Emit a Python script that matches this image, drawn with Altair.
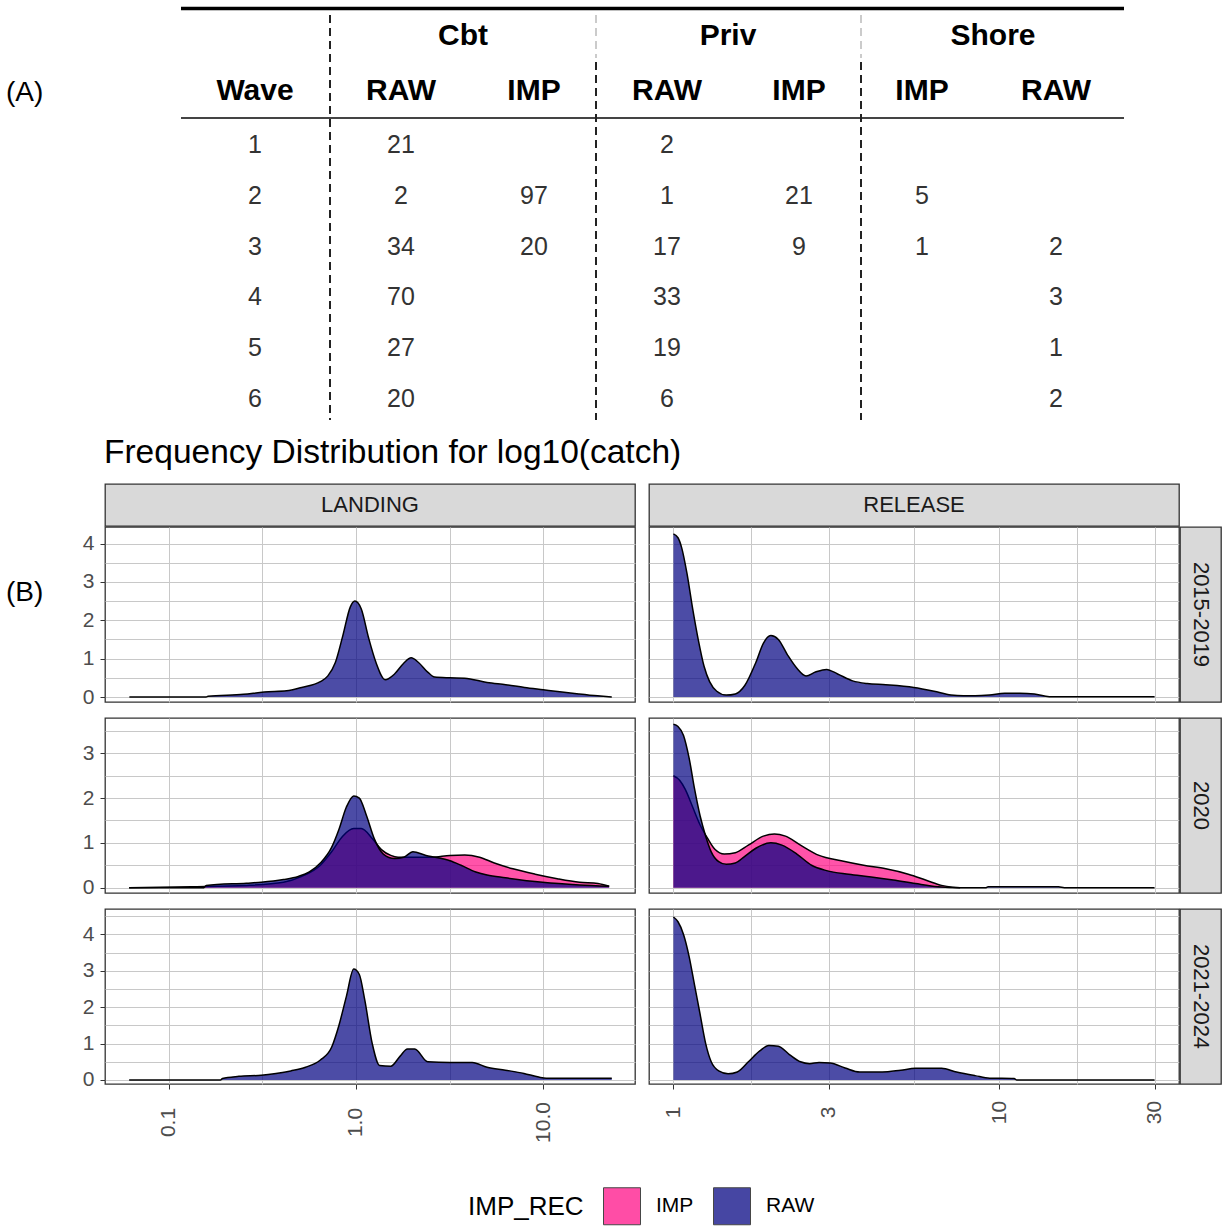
import math
import altair as alt
import pandas as pd

FONT = "Liberation Sans"
NAVY = "#000080"
PINK = "#FF0A85"
GRID = "#C8C8C8"

# ---------------- (A) table values ----------------
WAVES = [1, 2, 3, 4, 5, 6]
CBT_RAW = [21, 2, 34, 70, 27, 20]
CBT_IMP = [None, 97, 20, None, None, None]
PRIV_RAW = [2, 1, 17, 33, 19, 6]
PRIV_IMP = [None, 21, 9, None, None, None]
SHORE_IMP = [None, 5, 1, None, None, None]
SHORE_RAW = [None, None, 2, 3, 1, 2]
GROUP_NAMES = ["Cbt", "Priv", "Shore"]
SUB_NAMES = ["RAW", "IMP", "RAW", "IMP", "IMP", "RAW"]

# ---------------- (B) densities: x = log10(catch), y = density ----------------
L1_X = [-1.21, -0.80, -0.79, -0.60, -0.49, -0.37, -0.29, -0.19, -0.15, -0.11, -0.07, -0.03, -0.006, 0.028,
        0.067, 0.107, 0.156, 0.206, 0.255, 0.295, 0.334, 0.383, 0.42, 0.50, 0.58, 0.70, 0.80, 0.90, 1.00,
        1.10, 1.19, 1.29, 1.366]
L1_Y = [0.0, 0.0, 0.02, 0.07, 0.13, 0.16, 0.25, 0.40, 0.55, 0.90, 1.60, 2.35, 2.50, 2.30, 1.55, 0.90, 0.45,
        0.60, 0.88, 1.02, 0.90, 0.65, 0.52, 0.50, 0.49, 0.38, 0.32, 0.25, 0.19, 0.13, 0.08, 0.03, 0.0]

R1_X = [0.0, 0.014, 0.025, 0.042, 0.059, 0.076, 0.094, 0.111, 0.133, 0.162, 0.19, 0.219, 0.253, 0.276, 0.299,
        0.322, 0.35, 0.379, 0.407, 0.436, 0.47, 0.504, 0.55, 0.595, 0.652, 0.738, 0.80, 0.852, 0.89, 0.926,
        0.97, 1.017, 1.063, 1.108, 1.154, 1.477]
R1_Y = [4.25, 4.15, 3.9, 3.2, 2.3, 1.5, 0.8, 0.4, 0.15, 0.05, 0.08, 0.3, 0.9, 1.4, 1.6, 1.5, 1.1, 0.75, 0.55,
        0.65, 0.72, 0.6, 0.42, 0.35, 0.32, 0.25, 0.15, 0.05, 0.03, 0.03, 0.05, 0.1, 0.1, 0.08, 0.01, 0.01]

L2R_X = [-1.211, -0.812, -0.80, -0.585, -0.506, -0.387, -0.308, -0.249, -0.19, -0.13, -0.091, -0.051, -0.012,
         0.018, 0.057, 0.097, 0.146, 0.206, 0.255, 0.304, 0.374, 0.423, 0.502, 0.561, 0.64, 0.70, 0.798,
         0.996, 1.194, 1.352]
L2R_Y = [0, 0, 0.05, 0.1, 0.12, 0.18, 0.25, 0.35, 0.55, 0.9, 1.3, 1.8, 2.05, 2.0, 1.6, 1.1, 0.75, 0.65, 0.68,
         0.8, 0.72, 0.68, 0.6, 0.5, 0.35, 0.28, 0.22, 0.12, 0.06, 0.03]
L2I_X = [-1.211, -0.881, -0.585, -0.387, -0.289, -0.19, -0.13, -0.071, -0.012, 0.028, 0.087, 0.136, 0.186,
         0.225, 0.304, 0.403, 0.502, 0.581, 0.66, 0.739, 0.838, 0.957, 1.075, 1.194, 1.292, 1.352]
L2I_Y = [0, 0.02, 0.05, 0.12, 0.25, 0.5, 0.8, 1.15, 1.32, 1.32, 1.1, 0.85, 0.72, 0.68, 0.68, 0.68, 0.72, 0.73,
         0.68, 0.55, 0.42, 0.3, 0.2, 0.12, 0.09, 0.03]

R2R_X = [0.0, 0.014, 0.031, 0.048, 0.065, 0.082, 0.099, 0.116, 0.139, 0.162, 0.19, 0.219, 0.253, 0.299, 0.333,
         0.379, 0.424, 0.47, 0.538, 0.607, 0.675, 0.743, 0.812, 0.88, 0.96, 0.966, 1.182, 1.2, 1.477]
R2R_Y = [3.65, 3.6, 3.4, 2.9, 2.2, 1.6, 1.15, 0.8, 0.58, 0.52, 0.55, 0.7, 0.88, 1.0, 0.95, 0.75, 0.5, 0.38, 0.3,
         0.24, 0.17, 0.09, 0.02, 0.0, 0.0, 0.02, 0.02, 0.0, 0.0]
R2I_X = [0.0, 0.019, 0.036, 0.059, 0.082, 0.105, 0.128, 0.156, 0.19, 0.23, 0.276, 0.31, 0.344, 0.39, 0.447,
         0.515, 0.584, 0.652, 0.721, 0.778, 0.823, 0.857, 0.88]
R2I_Y = [2.5, 2.4, 2.2, 1.8, 1.4, 1.1, 0.85, 0.75, 0.78, 0.95, 1.15, 1.2, 1.15, 0.95, 0.72, 0.6, 0.5, 0.42, 0.3,
         0.16, 0.05, 0.01, 0.0]

L3_X = [-1.211, -0.723, -0.713, -0.625, -0.506, -0.427, -0.348, -0.269, -0.19, -0.13, -0.091, -0.051, -0.012,
        0.018, 0.047, 0.087, 0.126, 0.186, 0.235, 0.275, 0.314, 0.383, 0.502, 0.621, 0.70, 0.798, 0.897,
        0.976, 1.016, 1.366]
L3_Y = [0, 0, 0.04, 0.1, 0.13, 0.18, 0.25, 0.35, 0.55, 0.9, 1.5, 2.3, 3.05, 2.9, 2.2, 1.0, 0.4, 0.38, 0.65,
        0.85, 0.85, 0.5, 0.48, 0.48, 0.35, 0.27, 0.18, 0.08, 0.05, 0.05]

R3_X = [0.0, 0.014, 0.031, 0.048, 0.065, 0.082, 0.099, 0.116, 0.139, 0.168, 0.196, 0.23, 0.265, 0.293, 0.322,
        0.356, 0.39, 0.418, 0.447, 0.481, 0.527, 0.572, 0.641, 0.698, 0.743, 0.823, 0.869, 0.926, 0.971,
        1.046, 1.054, 1.477]
R3_Y = [4.48, 4.35, 4.0, 3.4, 2.6, 1.8, 1.0, 0.5, 0.25, 0.17, 0.22, 0.5, 0.8, 0.95, 0.93, 0.7, 0.5, 0.45, 0.48,
        0.47, 0.33, 0.22, 0.22, 0.27, 0.32, 0.32, 0.22, 0.12, 0.05, 0.04, 0.0, 0.0]

ROW_LABELS = ["2015-2019", "2020", "2021-2024"]
COL_LABELS = ["LANDING", "RELEASE"]

# ---------------- layout (pixels) ----------------
PW, PH = 530, 175
SW = 41          # right strip width
TH = 42          # top strip height
GAP_X = 12       # extra gap between panel columns
GAP_Y = 14       # extra gap between panel rows
TABLE_H = 484
COL_X = [150, 296, 429, 562, 694, 817, 951]
GROUP_X = [358, 623, 888]
SEP_X = [225, 491, 756]

dummy = pd.DataFrame({"d": [0]})


def txt(label, x, y, size, weight="normal", color="#333333", align="center", angle=0):
    return alt.Chart(pd.DataFrame({"t": [label]})).mark_text(
        font=FONT, fontSize=size, fontWeight=weight, color=color, align=align,
        baseline="middle", angle=angle
    ).encode(x=alt.value(x), y=alt.value(y), text="t:N")


def rule(x, x2, y, y2, color, width, dash=None):
    kw = dict(color=color, strokeWidth=width)
    if dash:
        kw["strokeDash"] = dash
    return alt.Chart(dummy).mark_rule(**kw).encode(
        x=alt.value(x), x2=alt.value(x2), y=alt.value(y), y2=alt.value(y2))


def spacer(w, h):
    return alt.Chart(dummy).mark_point(opacity=0).encode(
        x=alt.value(0), y=alt.value(0)).properties(width=w, height=h)


# ---------------- table chart ----------------
row_scale = alt.Scale(domain=[1, 6], range=[145, 399])
columns = [WAVES, CBT_RAW, CBT_IMP, PRIV_RAW, PRIV_IMP, SHORE_IMP, SHORE_RAW]
tlayers = [
    rule(76, 1019, 8.5, 8.5, "black", 3.5),
    rule(76, 1019, 118, 118, "#444444", 2),
]
tlayers.append(rule(SEP_X[0], SEP_X[0], 15, 420, "#222222", 2, [8, 5]))
for sx in SEP_X[1:]:
    tlayers.append(rule(sx, sx, 15, 58, "#BBBBBB", 1.5, [8, 5]))
    tlayers.append(rule(sx, sx, 62, 420, "#222222", 2, [8, 5]))
for vals, cx in zip(columns, COL_X):
    df = pd.DataFrame({"row": WAVES, "val": vals}).dropna()
    df["val"] = df["val"].astype(int).astype(str)
    tlayers.append(alt.Chart(df).mark_text(font=FONT, fontSize=25, color="#333333", baseline="middle").encode(
        x=alt.value(cx), y=alt.Y("row:Q", scale=row_scale, axis=None), text="val:N"))
tlayers.append(txt("Wave", COL_X[0], 91, 30, "bold", "black"))
for name, cx in zip(SUB_NAMES, COL_X[1:]):
    tlayers.append(txt(name, cx, 91, 30, "bold", "black"))
for name, gx in zip(GROUP_NAMES, GROUP_X):
    tlayers.append(txt(name, gx, 36, 30, "bold", "black"))
tlayers.append(txt("(A)", -99, 93, 28, "normal", "black", "left"))
tlayers.append(txt("Frequency Distribution for log10(catch)", -1, 453, 33.5, "normal", "black", "left"))
table = alt.layer(*tlayers).properties(width=1075, height=TABLE_H)

# ---------------- density panels ----------------
LAND_TICKS = [-1, -0.5, 0, 0.5, 1]
REL_TICKS = [0, math.log10(math.sqrt(3)), math.log10(3), math.log10(math.sqrt(30)), 1,
             math.log10(math.sqrt(300)), math.log10(30)]
X_DOM = {"L": [-1.34, 1.49], "R": [-0.075, 1.552]}
Y_DOMS = [[-0.13, 4.43], [-0.12, 3.79], [-0.11, 4.70]]
Y_TICKS = [[i * 0.5 for i in range(9)], [i * 0.5 for i in range(8)], [i * 0.5 for i in range(10)]]

LEGEND = alt.Legend(
    orient="none", legendX=363, legendY=1187, direction="horizontal", title="IMP_REC",
    titleOrient="left", titleFont=FONT, titleFontSize=26, titleFontWeight="normal", titleColor="black",
    titleBaseline="middle", titleAnchor="middle", titlePadding=19,
    labelFont=FONT, labelFontSize=21, labelColor="black", labelOffset=15, columnPadding=17,
    symbolType="square", symbolSize=1369, symbolStrokeColor="black", symbolStrokeWidth=1,
    symbolOpacity=0.72,
)
COLOR = alt.Color("IMP_REC:N", scale=alt.Scale(domain=["IMP", "RAW"], range=[PINK, NAVY]), legend=LEGEND)


def x_axis(kind, bottom):
    if kind == "L":
        vals = LAND_TICKS
        major = "abs(datum.value - round(datum.value)) < 0.001"
        lab = "format(pow(10, datum.value), '.1f')"
        pad = 33
    else:
        vals = REL_TICKS
        major = "abs(pow(10, datum.value) - round(pow(10, datum.value))) < 0.01"
        lab = "format(round(pow(10, datum.value)), 'd')"
        pad = 23
    common = dict(values=vals, grid=True, gridColor=GRID, gridWidth=1, domain=False, title=None)
    if bottom:
        return alt.Axis(**common, labels=True, labelExpr=f"({major}) ? {lab} : ''", labelAngle=270,
                        labelAlign="center", labelBaseline="middle", labelPadding=pad, labelFontSize=21,
                        labelColor="#4D4D4D", labelFont=FONT, labelOverlap=False, labelFlush=False,
                        ticks=True, tickSize=5, tickColor="#333333", tickWidth=1,
                        tickOpacity={"condition": {"test": major, "value": 1}, "value": 0})
    return alt.Axis(**common, labels=False, ticks=False)


def y_axis(row, show):
    common = dict(values=Y_TICKS[row], grid=True, gridColor=GRID, gridWidth=1, domain=False, title=None)
    if show:
        major = "abs(datum.value - round(datum.value)) < 0.001"
        return alt.Axis(**common, labels=True, labelExpr=f"({major}) ? format(datum.value, 'd') : ''",
                        labelFontSize=21, labelColor="#4D4D4D", labelFont=FONT, labelPadding=6,
                        labelOverlap=False, ticks=True, tickSize=5, tickColor="#333333", tickWidth=1,
                        tickOpacity={"condition": {"test": major, "value": 1}, "value": 0})
    return alt.Axis(**common, labels=False, ticks=False)


def panel(series, kind, row, show_y, bottom, extra=()):
    xenc = alt.X("log_catch:Q", scale=alt.Scale(domain=X_DOM[kind], nice=False, zero=False),
                 axis=x_axis(kind, bottom))
    yenc = alt.Y("density:Q", scale=alt.Scale(domain=Y_DOMS[row], nice=False, zero=False),
                 axis=y_axis(row, show_y))
    layers = []
    for name, xs, ys in series:
        df = pd.DataFrame({"log_catch": xs, "density": ys, "IMP_REC": [name] * len(xs)})
        layers.append(alt.Chart(df).mark_area(fillOpacity=0.7, interpolate="monotone").encode(
            x=xenc, y=yenc, y2=alt.datum(0), color=COLOR))
        layers.append(alt.Chart(df).mark_line(color="black", strokeWidth=1.5, interpolate="monotone").encode(
            x=xenc, y=yenc))
    layers += list(extra)
    return alt.layer(*layers).properties(
        width=PW, height=PH, view=alt.ViewBackground(stroke="#333333", strokeWidth=1.3))


def strip(label, w, h, angle=0):
    return alt.Chart(pd.DataFrame({"t": [label]})).mark_text(
        font=FONT, fontSize=22, color="#1A1A1A", angle=angle, baseline="middle", align="center"
    ).encode(x=alt.value(w / 2), y=alt.value(h / 2), text="t:N").properties(
        width=w, height=h, view=alt.ViewBackground(fill="#D9D9D9", stroke="#333333", strokeWidth=1.3))


series = [
    ([("RAW", L1_X, L1_Y)], [("RAW", R1_X, R1_Y)]),
    ([("IMP", L2I_X, L2I_Y), ("RAW", L2R_X, L2R_Y)], [("IMP", R2I_X, R2I_Y), ("RAW", R2R_X, R2R_Y)]),
    ([("RAW", L3_X, L3_Y)], [("RAW", R3_X, R3_Y)]),
]

cells = [strip(COL_LABELS[0], PW, TH), spacer(GAP_X, TH), strip(COL_LABELS[1], PW, TH), spacer(SW, TH)]
for i, (ls, rs) in enumerate(series):
    if i > 0:
        cells += [spacer(PW, GAP_Y), spacer(GAP_X, GAP_Y), spacer(PW, GAP_Y), spacer(SW, GAP_Y)]
    extra = [txt("(B)", -99, 66, 28, "normal", "black", "left")] if i == 0 else []
    cells += [
        panel(ls, "L", i, True, i == 2, extra),
        spacer(GAP_X, PH),
        panel(rs, "R", i, False, i == 2),
        strip(ROW_LABELS[i], SW, PH, 90),
    ]

grid = alt.concat(*cells, columns=4, spacing=1, bounds="flush")

chart = alt.vconcat(table, grid, spacing=0, bounds="flush").properties(
    padding={"left": 5, "top": 0, "right": 0, "bottom": 0}
).configure(font=FONT).configure_view(strokeWidth=0)

chart.save("out.html", embed_options={"renderer": "svg", "actions": False})
